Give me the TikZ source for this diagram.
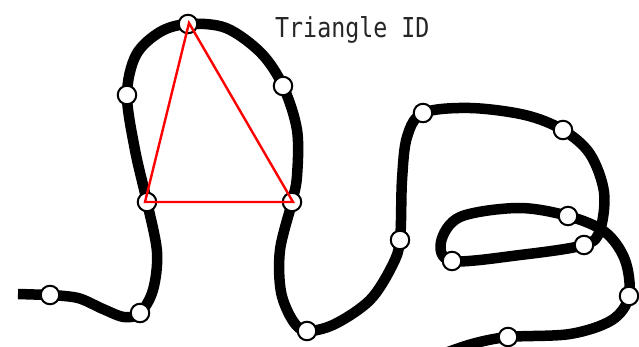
\documentclass[tikz,border=0pt]{standalone}
\usepackage{fontspec}
\newfontfamily\labelfont{DejaVu Sans Mono}
\begin{document}
\begin{tikzpicture}[x=1pt,y=-1pt,
  strand/.style={line width=10.5pt,black},
  knot/.style={circle,draw=black,fill=white,line width=2pt,minimum size=18.5pt,inner sep=0pt},
  tri/.style={red,line width=2.4pt,line join=miter},
  caption/.style={anchor=base west,inner sep=0pt,text=black!85}]
\useasboundingbox (0,0) rectangle (639,347);
\clip (0,0) rectangle (639,347);
\fill[white] (0,0) rectangle (639,347);
% curve points
\coordinate (s0) at (18,294);
\coordinate (p1) at (50,295);
\coordinate (p2) at (140,313);
\coordinate (p3) at (147,202);
\coordinate (p4) at (127,95);
\coordinate (p5) at (188,24);
\coordinate (p6) at (283,86);
\coordinate (p7) at (292,202);
\coordinate (p8) at (307,331);
\coordinate (p9) at (400,240);
\coordinate (p10) at (423,113);
\coordinate (p11) at (563,130);
\coordinate (p12) at (584,245);
\coordinate (p13) at (452,261);
\coordinate (p14) at (568,216);
\coordinate (p15) at (629,296);
\coordinate (p16) at (508,337);
\draw[strand,line cap=butt] (s0) -- (p1);
\draw[strand,line join=round] plot[smooth,tension=0.55] coordinates {
  (p1) (78,298) (103,309) (124,317) (p2) (153,290) (157,252) (p3)
  (135,150) (p4) (136,55) (160,32) (p5) (226,28) (261,53) (p6)
  (297,130) (297,176) (p7) (280,250) (281,292) (293,321) (p8)
  (335,324) (370,300) (392,266) (p9) (402,180) (407,137) (p10)
  (470,108) (525,115) (p11) (590,154) (604,192) (600,230) (p12)
  (520,255) (p13) (441,242) (460,217) (518,208) (p14) (605,232)
  (625,260) (p15) (612,320) (570,334) (p16) (472,344) (440,355)};
% knots
\foreach \i in {1,...,16} {\node[knot] (k\i) at (p\i) {};}
% triangle
\draw[tri] (189,23) -- (145,202) -- (293,202) -- cycle;
\node[caption] (title) at (275,38) {\scalebox{0.85}[1]{\labelfont\fontsize{27.4}{30}\selectfont Triangle ID}};
\end{tikzpicture}
\end{document}
